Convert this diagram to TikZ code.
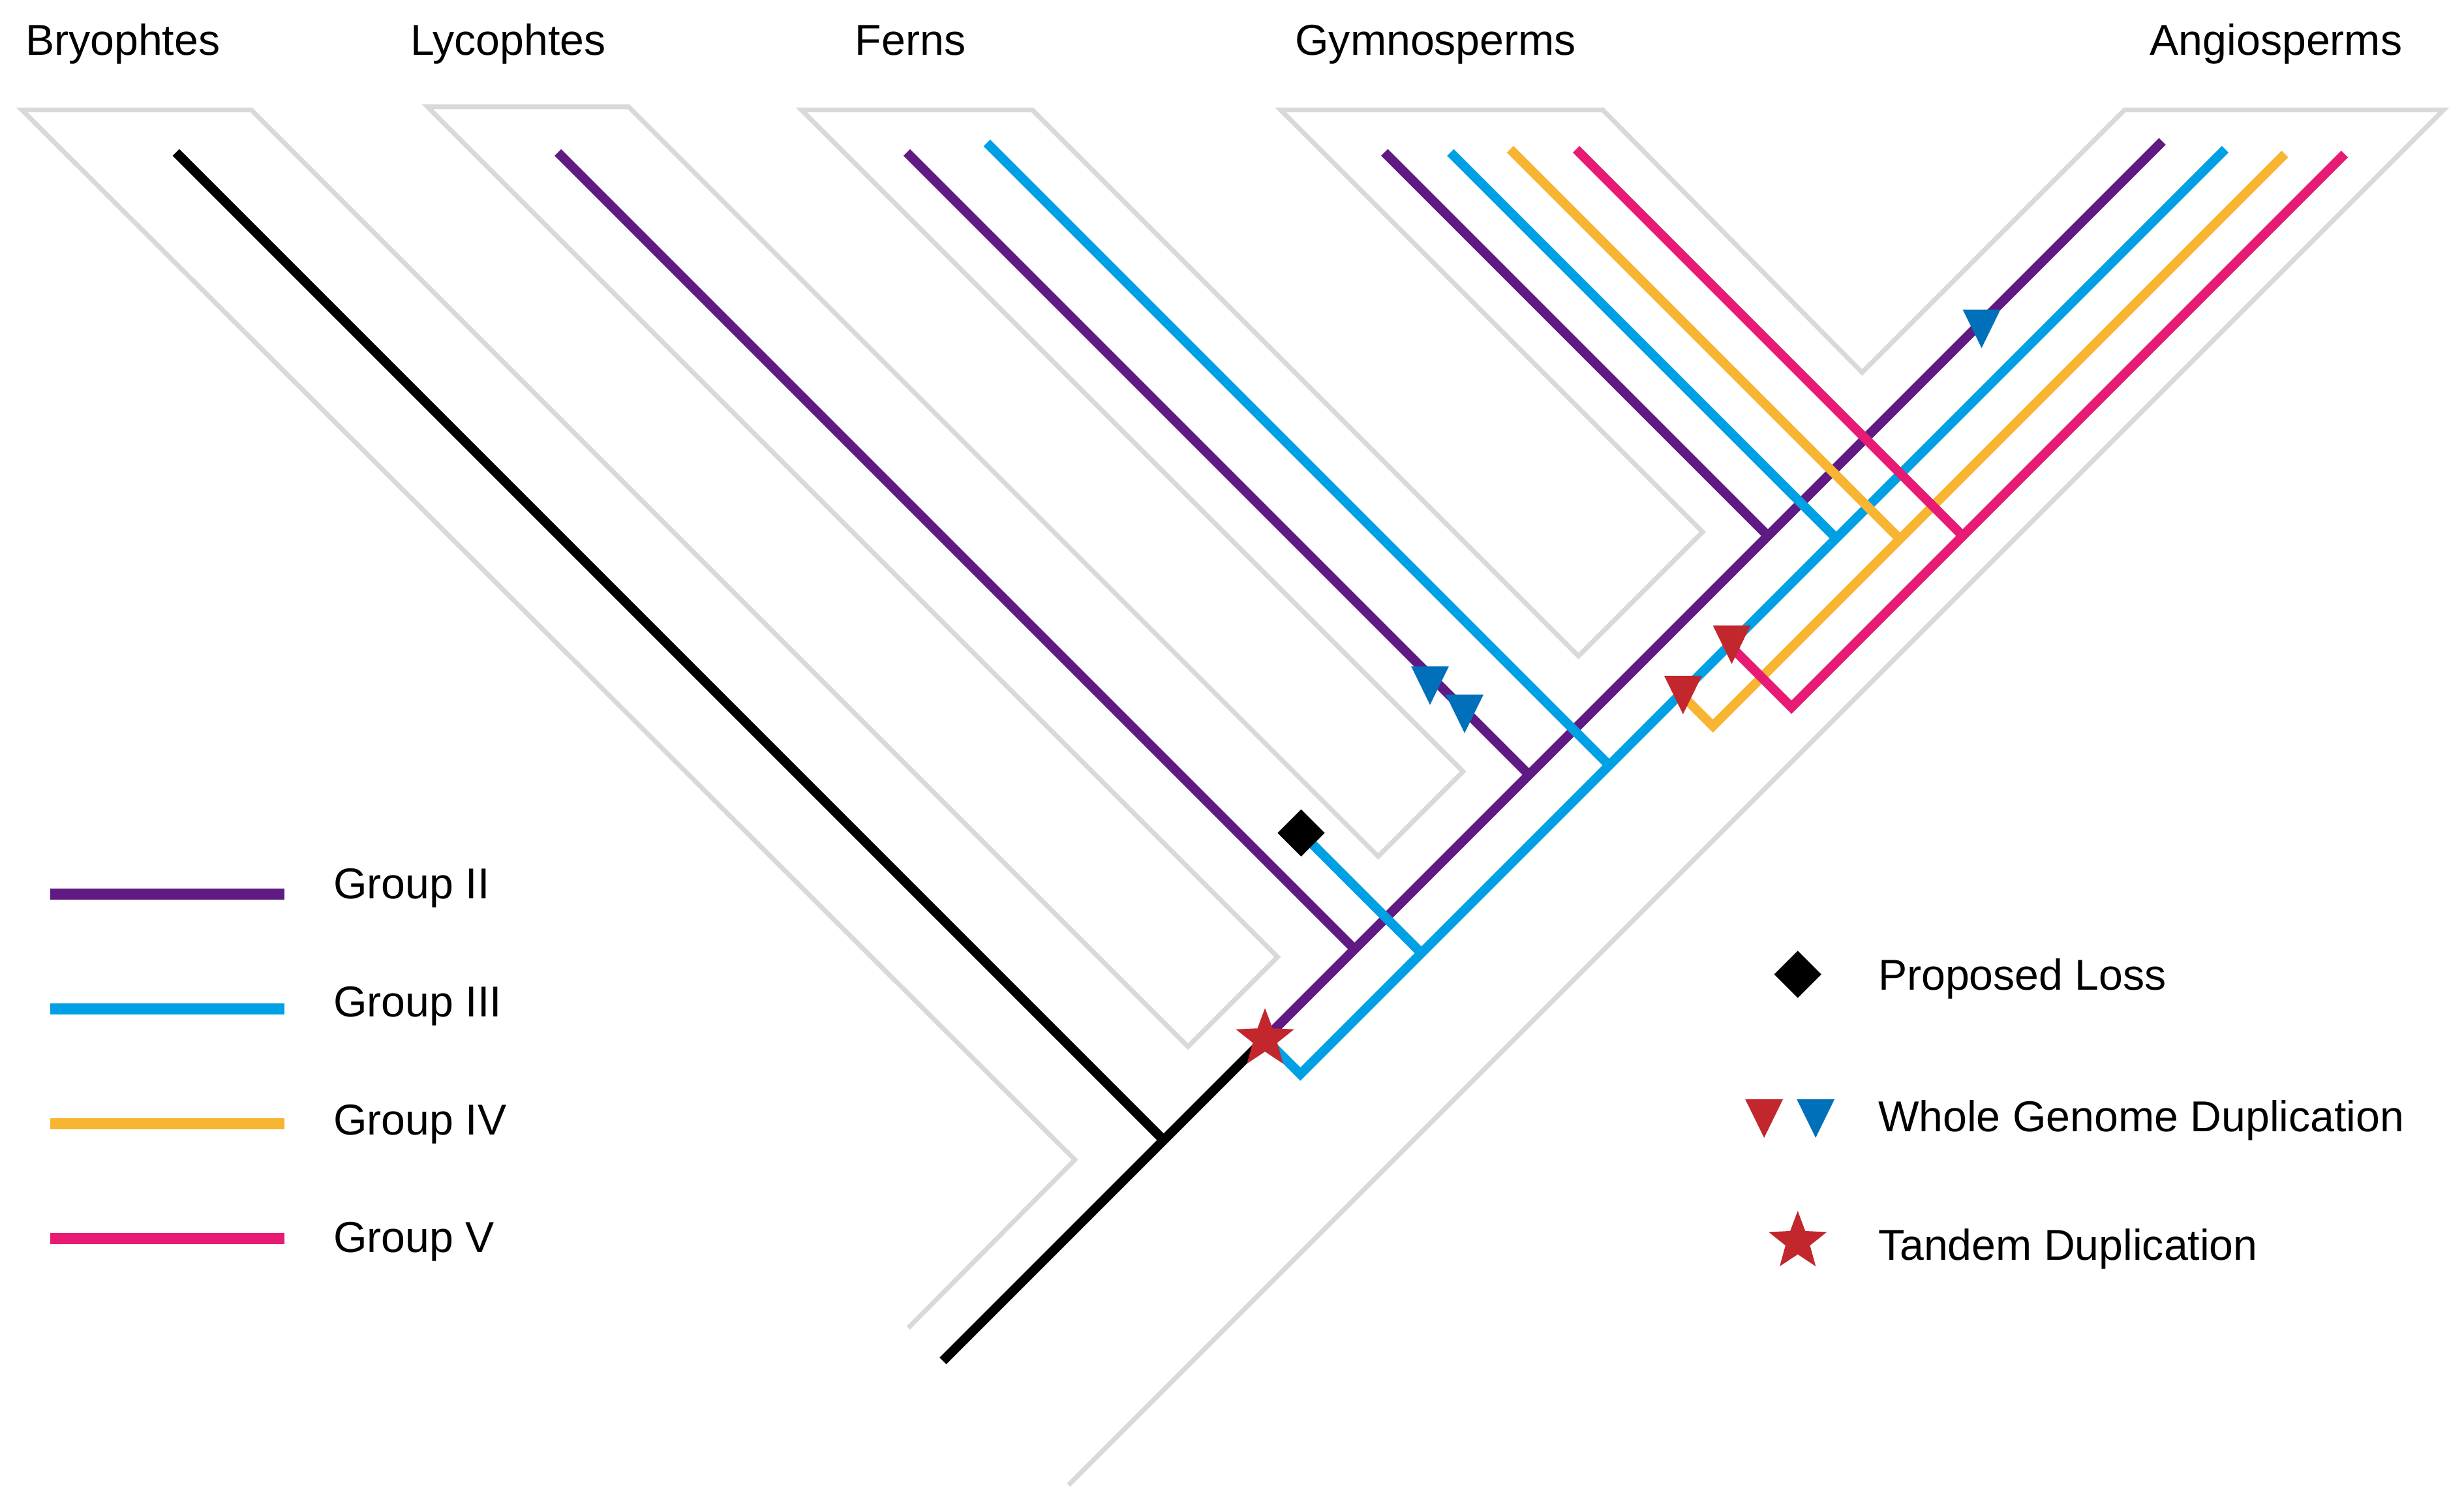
\documentclass[tikz,border=0pt]{standalone}
\usepackage{fontspec}
\setmainfont{Liberation Sans}
\definecolor{gII}{RGB}{95,26,132}
\definecolor{gIII}{RGB}{0,160,228}
\definecolor{gIV}{RGB}{248,181,50}
\definecolor{gV}{RGB}{231,27,115}
\definecolor{wgdblue}{RGB}{0,112,186}
\definecolor{mred}{RGB}{193,39,45}
\definecolor{outl}{RGB}{217,217,217}
\newcommand\wgdtri[3]{\fill[#1] ([shift={(-12,0)}]#2,#3) -- ++(24,0) -- ++(-12,24.5) -- cycle;}
\newcommand\lossmark[1]{\fill[black,shift={(#1)}] (0,-15) -- (15,0) -- (0,15) -- (-15,0) -- cycle;}
\newcommand\tandstar[1]{\fill[mred,shift={(#1)}] (270:19.5) -- (306:8.2) -- (342:19.5) -- (18:8.2) -- (54:19.5) -- (90:8.2) -- (126:19.5) -- (162:8.2) -- (198:19.5) -- (234:8.2) -- cycle;}
\begin{document}
\begin{tikzpicture}[x=1pt,y=-1pt,
  outline/.style={draw=outl, line width=3pt, line join=miter},
  br/.style={line width=6pt, line join=miter, line cap=butt},
  legline/.style={line width=7pt, line cap=butt},
  lab/.style={anchor=base west, inner sep=0pt, font=\fontsize{27.5}{33}\selectfont},
]
\useasboundingbox (0,0) rectangle (1568,960.2);

% ---- clade labels
\node[lab] (lBry) at (16,35) {Bryophtes};
\node[lab] (lLyc) at (261,35) {Lycophtes};
\node[lab] (lFer) at (544,35) {Ferns};
\node[lab] (lGym) at (824,35) {Gymnosperms};
\node[lab] (lAng) at (1368,35) {Angiosperms};

% ---- grey outline of the tree
\draw[outline] (578,845) -- (684,738) -- (14,70) -- (160,70) -- (756,666) -- (813,609)
  -- (272,68) -- (400,68) -- (877,545) -- (931,491) -- (510,70) -- (657,70)
  -- (1004.5,417.5) -- (1083.5,338.5) -- (815,70) -- (1020,70) -- (1185,237)
  -- (1352,70) -- (1555,70) -- (680,945);

% ---- coordinates of the tree
\coordinate (root) at (600,866);
\coordinate (nB) at (740.5,725.5);
\coordinate (tB) at (112,97);
\coordinate (star) at (805,661);
\coordinate (nL2) at (862,604);
\coordinate (tL2) at (355,97);
\coordinate (nF2) at (973,493);
\coordinate (tF2) at (577,97);
\coordinate (nG2) at (1125,341);
\coordinate (tG2) at (881,97);
\coordinate (tA2) at (1376,90);
\coordinate (b0) at (827.5,683.5);
\coordinate (nL3) at (904.5,606.5);
\coordinate (loss) at (828,530);
\coordinate (nF3) at (1024,487);
\coordinate (tF3) at (628,91);
\coordinate (nY) at (1069.5,441.5);
\coordinate (nP) at (1100.5,410.5);
\coordinate (nG3) at (1168.5,342.5);
\coordinate (tG3) at (923,97);
\coordinate (tA3) at (1416,95);
\coordinate (vY) at (1090,462);
\coordinate (nG4) at (1209,343);
\coordinate (tG4) at (961,95);
\coordinate (tA4) at (1454,98);
\coordinate (vP) at (1140,450);
\coordinate (nG5) at (1249,341);
\coordinate (tG5) at (1003,95);
\coordinate (tA5) at (1492,98);

% ---- black
\draw[br,black] (tB) -- (nB);
\draw[br,black] (root) -- (star);
% ---- group II
\draw[br,gII] (star) -- (tA2);
\draw[br,gII] (tL2) -- (nL2);
\draw[br,gII] (tF2) -- (nF2);
\draw[br,gII] (tG2) -- (nG2);
% ---- group III
\draw[br,gIII] (star) -- (b0) -- (tA3);
\draw[br,gIII] (loss) -- (nL3);
\draw[br,gIII] (tF3) -- (nF3);
\draw[br,gIII] (tG3) -- (nG3);
% ---- group IV
\draw[br,gIV] (nY) -- (vY) -- (tA4);
\draw[br,gIV] (tG4) -- (nG4);
% ---- group V
\draw[br,gV] (nP) -- (vP) -- (tA5);
\draw[br,gV] (tG5) -- (nG5);

% ---- events on the tree
\wgdtri{wgdblue}{910}{424}
\wgdtri{wgdblue}{932}{442}
\wgdtri{wgdblue}{1261}{197}
\wgdtri{mred}{1071}{430}
\wgdtri{mred}{1102}{398}
\lossmark{loss}
\tandstar{star}

% ---- legend of groups
\draw[legline,gII]  (32,569) -- (181,569);
\draw[legline,gIII] (32,642) -- (181,642);
\draw[legline,gIV]  (32,715) -- (181,715);
\draw[legline,gV]   (32,788) -- (181,788);
\node[lab] (lg2) at (212,572) {Group II};
\node[lab] (lg3) at (212,647) {Group III};
\node[lab] (lg4) at (212,722) {Group IV};
\node[lab] (lg5) at (212,797) {Group V};

% ---- legend of events
\coordinate (legloss) at (1144,620);
\coordinate (legstar) at (1144,790);
\lossmark{legloss}
\wgdtri{mred}{1122.6}{699.5}
\wgdtri{wgdblue}{1155.4}{699.5}
\tandstar{legstar}
\node[lab] (lloss) at (1195,630) {Proposed Loss};
\node[lab] (lwgd) at (1195,720) {Whole Genome Duplication};
\node[lab] (ltd) at (1195,802) {Tandem Duplication};
\end{tikzpicture}
\end{document}
